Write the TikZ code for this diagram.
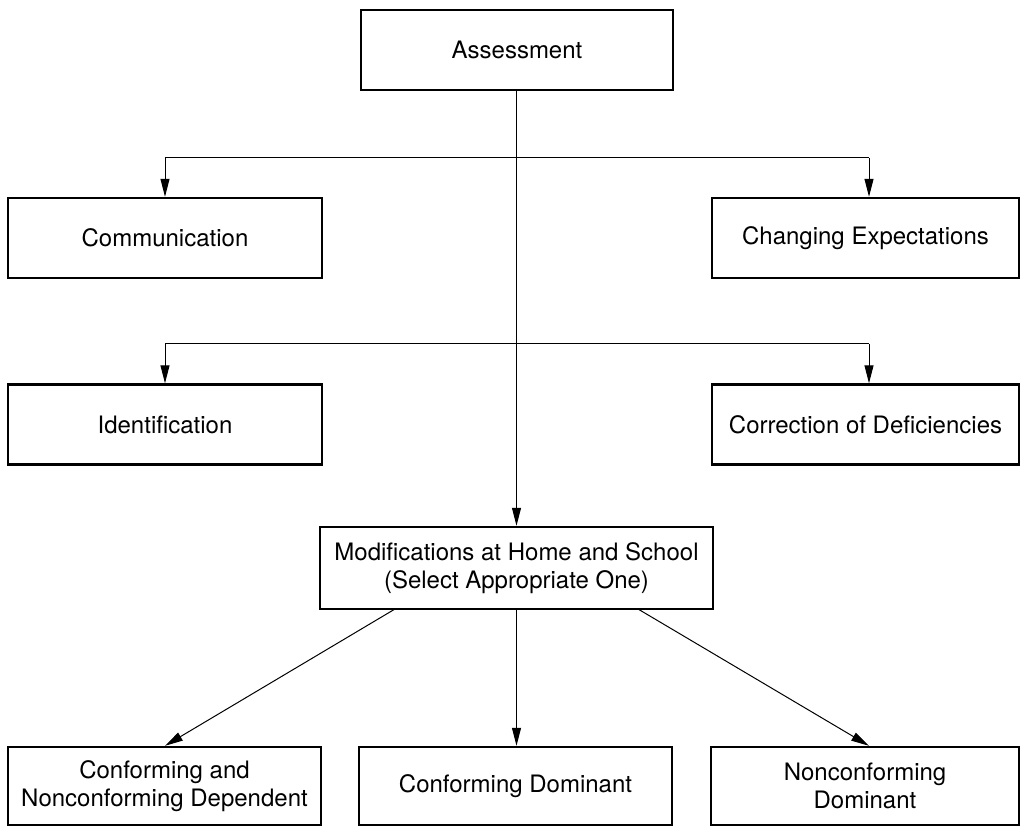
\documentclass[tikz,border=0pt]{standalone}
\usepackage{fontspec}
\setmainfont{TeX Gyre Heros}
\usepackage{tikz}
\usetikzlibrary{arrows.meta,positioning,calc}

\begin{document}
\begin{tikzpicture}[
  x=0.5pt, y=-0.5pt,
  font=\fontsize{12pt}{14pt}\selectfont,
  blk/.style={rectangle, draw=black, line width=1.2pt, minimum height=40pt,
              align=center, inner sep=2pt},
  arr/.style={-{Triangle[length=9pt,width=4.5pt]}, line width=0.5pt, black},
  ln/.style={line width=0.5pt, black},
]
\useasboundingbox (0,0) rectangle (1022,828);

% ================= top
\node[blk, minimum width=156pt] (ass) at (517,50) {Assessment};

% ================= first branch
\node[blk, minimum width=157pt] (com) at (165,238)   {Communication};
\node[blk, minimum width=153.5pt] (chg) at (865.5,238) {Changing Expectations};

% ================= second branch
\node[blk, minimum width=157pt] (idf) at (165,424.5)   {Identification};
\node[blk, minimum width=153.5pt] (cor) at (865.5,424.5) {Correction of Deficiencies};

% ================= modifications
\node[blk, minimum width=196.5pt, minimum height=41pt] (mod) at (516.5,568)
  {Modifications at Home and School\\(Select Appropriate One)};

% ================= bottom row
\node[blk, minimum width=156.5pt, minimum height=39pt] (dep) at (164.5,786)
  {Conforming and\\Nonconforming Dependent};
\node[blk, minimum width=156.5pt, minimum height=39pt] (cdm) at (515.5,786)
  {Conforming Dominant};
\node[blk, minimum width=154pt, minimum height=39pt] (ndm) at (865,786)
  {Nonconforming\\Dominant};

% ================= branch points
\coordinate (b1l) at (165,158);
\coordinate (b1r) at (869,158);
\coordinate (b2l) at (165,344);
\coordinate (b2r) at (869,344);
\coordinate (m1) at (395,609);
\coordinate (m3) at (638,609);

% ================= connectors
\draw[arr] (ass.south -| mod.north) -- (mod.north);
\draw[ln] (b1l) -- (b1r);
\draw[arr] (b1l) -- (b1l |- com.north);
\draw[arr] (b1r) -- (b1r |- chg.north);
\draw[ln] (b2l) -- (b2r);
\draw[arr] (b2l) -- (b2l |- idf.north);
\draw[arr] (b2r) -- (b2r |- cor.north);

\draw[arr] (m1) -- (dep.north -| b1l);
\draw[arr] (mod.south -| mod.north) -- (cdm.north -| mod.north);
\draw[arr] (m3) -- (ndm.north -| b1r);
\end{tikzpicture}
\end{document}
